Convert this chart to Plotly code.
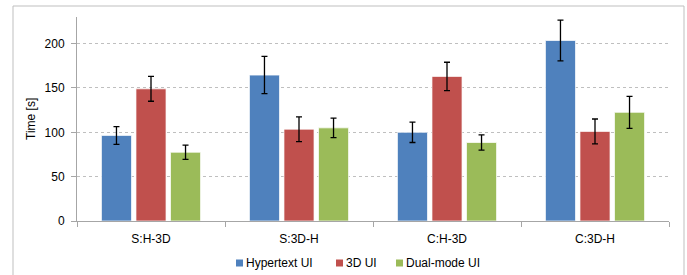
import plotly.graph_objects as go

categories = ["S:H-3D", "S:3D-H", "C:H-3D", "C:3D-H"]
series_names = ["Hypertext UI", "3D UI", "Dual-mode UI"]
hypertext = [96.5, 164.5, 100, 203.5]
hypertext_err = [10, 21, 11.5, 23]
ui3d = [149, 103.5, 163, 101]
ui3d_err = [14, 14, 16, 14]
dualmode = [77.5, 105, 88.5, 122.5]
dualmode_err = [8, 11, 8.5, 18]
colors = ["#4F81BD", "#C0504D", "#9BBB59"]
y_ticks = [0, 50, 100, 150, 200]

fig = go.Figure()
for name, vals, errs, col in zip(series_names, [hypertext, ui3d, dualmode],
                                 [hypertext_err, ui3d_err, dualmode_err], colors):
    fig.add_trace(go.Bar(
        x=categories, y=vals, name=name, showlegend=False,
        marker=dict(color=col, line=dict(color="rgba(255,255,255,0.7)", width=1)),
        error_y=dict(type="data", array=errs, visible=True, color="black",
                     thickness=1.3, width=3),
    ))

W, H = 687, 275
L, R, T, B = 77, 18, 17, 54
pw = W - L - R
ph = H - T - B

def px_to_paper_x(px):
    return (px - L) / pw

def px_to_paper_y(py):
    return (H - B - py) / ph

fig.add_shape(type="rect", xref="paper", yref="paper",
              x0=px_to_paper_x(13), x1=px_to_paper_x(684),
              y0=px_to_paper_y(290), y1=px_to_paper_y(6),
              line=dict(color="#BFBFBF", width=1), fillcolor="rgba(0,0,0,0)",
              layer="below")

fig.add_annotation(text="Time [s]", xref="paper", yref="paper",
                   x=px_to_paper_x(31), y=px_to_paper_y(119), textangle=-90,
                   showarrow=False, font=dict(size=12), xanchor="center", yanchor="middle")

# manual legend (small square swatch + text)
legend_x = [236, 336, 396]
legend_y = 263
for name, col, lx in zip(series_names, colors, legend_x):
    fig.add_shape(type="rect", xref="paper", yref="paper",
                  x0=px_to_paper_x(lx), x1=px_to_paper_x(lx + 7),
                  y0=px_to_paper_y(legend_y + 3.5), y1=px_to_paper_y(legend_y - 3.5),
                  line=dict(width=0), fillcolor=col)
    fig.add_annotation(text=name, xref="paper", yref="paper",
                       x=px_to_paper_x(lx + 9), y=px_to_paper_y(legend_y),
                       showarrow=False, xanchor="left", yanchor="middle",
                       font=dict(size=12), borderpad=0)

fig.update_layout(
    width=W, height=H,
    margin=dict(l=L, r=R, t=T, b=B, pad=0, autoexpand=False),
    paper_bgcolor="white", plot_bgcolor="white",
    barmode="group", bargap=0.3, bargroupgap=0.13,
    font=dict(family="Liberation Sans, Arial, sans-serif", size=12, color="black"),
    showlegend=False,
    xaxis=dict(showline=True, linecolor="#A6A6A6", linewidth=1, automargin=False,
               ticks="outside", tickson="boundaries", ticklen=5, tickcolor="#A6A6A6",
               showgrid=False, tickfont=dict(size=12), ticklabelstandoff=7),
    yaxis=dict(range=[0, 230], tickvals=y_ticks, showline=True, linecolor="#A6A6A6",
               linewidth=1, ticks="outside", ticklen=5, tickcolor="#A6A6A6", automargin=False,
               showgrid=True, gridcolor="#BFBFBF", griddash="dot", gridwidth=1,
               zeroline=False, tickfont=dict(size=12), ticklabelstandoff=4),
)

fig.write_html("out.html", config={"displayModeBar": False},
               post_script="document.body.style.margin='0';document.body.style.padding='0';document.body.style.overflow='hidden';")
